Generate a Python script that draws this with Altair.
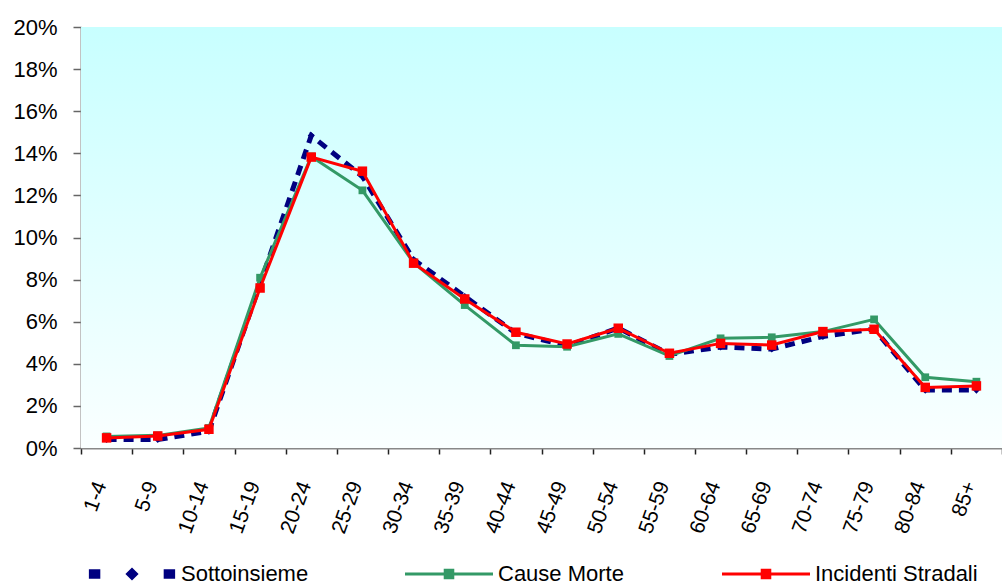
import altair as alt
import pandas as pd

# Age groups on the horizontal axis
ages = ["1-4", "5-9", "10-14", "15-19", "20-24", "25-29", "30-34", "35-39",
        "40-44", "45-49", "50-54", "55-59", "60-64", "65-69", "70-74",
        "75-79", "80-84", "85+"]

series_names = ["Sottoinsieme", "Cause Morte", "Incidenti Stradali"]

# Share of cases per age group, in percent
sottoinsieme = [0.40, 0.40, 0.80, 7.80, 14.84, 12.90, 8.95, 7.20, 5.45,
                4.85, 5.70, 4.45, 4.80, 4.70, 5.30, 5.65, 2.75, 2.75]
cause_morte = [0.55, 0.60, 0.95, 8.09, 13.85, 12.24, 8.80, 6.79, 4.88,
               4.81, 5.42, 4.37, 5.21, 5.26, 5.53, 6.11, 3.36, 3.15]
incidenti_stradali = [0.48, 0.57, 0.89, 7.60, 13.82, 13.15, 8.78, 7.08, 5.50,
                      4.94, 5.69, 4.50, 4.97, 4.89, 5.53, 5.64, 2.88, 2.95]

y_ticks = [0, 2, 4, 6, 8, 10, 12, 14, 16, 18, 20]

colors = ["#000080", "#339966", "#FF0000"]

rows = []
for name, vals in zip(series_names, [sottoinsieme, cause_morte, incidenti_stradali]):
    for a, v in zip(ages, vals):
        rows.append({"age": a, "series": name, "share": v / 100})
df = pd.DataFrame(rows)

FONT = "Liberation Sans"

x_enc = alt.X(
    "age:N",
    scale=alt.Scale(type="band", domain=ages, paddingInner=0, paddingOuter=0),
    bandPosition=0.5,
    axis=alt.Axis(
        title=None, grid=False, labelAngle=-70, labelAlign="right",
        labelBaseline="middle", labelFont=FONT, labelFontSize=21,
        labelColor="black", labelPadding=28, labelOffset=-6,
        tickBand="extent", tickSize=6,
        tickColor="#222222", tickWidth=1.5, domainColor="#888888",
        domainWidth=2, labelOverlap=False,
    ),
)
y_enc = alt.Y(
    "share:Q",
    scale=alt.Scale(domain=[0, 0.2], nice=False),
    axis=alt.Axis(
        title=None, grid=False, format=".0%", values=[t / 100 for t in y_ticks],
        labelFont=FONT, labelFontSize=22, labelColor="black", labelPadding=16,
        tickSize=8, tickColor="#666666", tickWidth=1.5,
        domainColor="#888888", domainWidth=2,
    ),
)

# Pale cyan gradient behind the plot area
background = alt.Chart(pd.DataFrame({"k": [0]})).mark_rect(
    fill=alt.Gradient(
        gradient="linear", x1=0, x2=0, y1=0, y2=1,
        stops=[alt.GradientStop(color="#C8FFFF", offset=0),
               alt.GradientStop(color="#FAFFFF", offset=1)],
    ),
).encode(x=alt.value(0), x2=alt.value("width"), y=alt.value(0), y2=alt.value("height"))

styles = {
    "Sottoinsieme": dict(width=5, dash=[10, 7], shape="diamond", size=50),
    "Cause Morte": dict(width=3, dash=None, shape="square", size=60),
    "Incidenti Stradali": dict(width=3, dash=None, shape="square", size=90),
}

layers = [background]
for name, color in zip(series_names, colors):
    st = styles[name]
    sub = df[df["series"] == name]
    line_kw = dict(color=color, strokeWidth=st["width"], strokeCap="butt")
    if st["dash"]:
        line_kw["strokeDash"] = st["dash"]
    layers.append(alt.Chart(sub).mark_line(**line_kw).encode(x=x_enc, y=y_enc))
    layers.append(
        alt.Chart(sub).mark_point(filled=True, shape=st["shape"], size=st["size"],
                                  color=color, opacity=1).encode(x=x_enc, y=y_enc)
    )

# Legend symbols: dashed line with diamond, and line with square marker
legend_paths = [
    "M-0.98,-0.11H-0.72V0.11H-0.98Z M0,-0.15L0.15,0L0,0.15L-0.15,0Z M0.72,-0.11H0.98V0.11H0.72Z",
    "M-1,-0.035H1V0.035H-1Z M-0.12,-0.12H0.12V0.12H-0.12Z",
    "M-1,-0.035H1V0.035H-1Z M-0.12,-0.12H0.12V0.12H-0.12Z",
]
legend_def = alt.Legend(
    title=None, orient="none", legendX=7, legendY=503, direction="horizontal",
    columns=3, gridAlign="all", symbolSize=7744, symbolStrokeWidth=0,
    labelFont=FONT, labelFontSize=22, labelColor="black", labelOffset=5,
    columnPadding=61, padding=0, labelLimit=0,
)
legend_df = pd.DataFrame({"series": series_names, "age": [ages[0]] * 3,
                          "share": [None] * 3})
legend_layer = alt.Chart(legend_df).mark_point(filled=True, opacity=1).encode(
    x=x_enc,
    y=y_enc,
    color=alt.Color("series:N", scale=alt.Scale(domain=series_names, range=colors),
                    legend=legend_def),
    shape=alt.Shape("series:N", scale=alt.Scale(domain=series_names, range=legend_paths),
                    legend=legend_def),
)
layers.append(legend_layer)

chart = alt.layer(*layers).properties(
    width=921, height=421,
    padding={"left": 81, "top": 27, "right": 0, "bottom": 139},
    autosize=alt.AutoSizeParams(type="none"),
    background="white",
).configure_view(stroke=None)

chart.save("out.html", embed_options={"renderer": "svg", "actions": False})
